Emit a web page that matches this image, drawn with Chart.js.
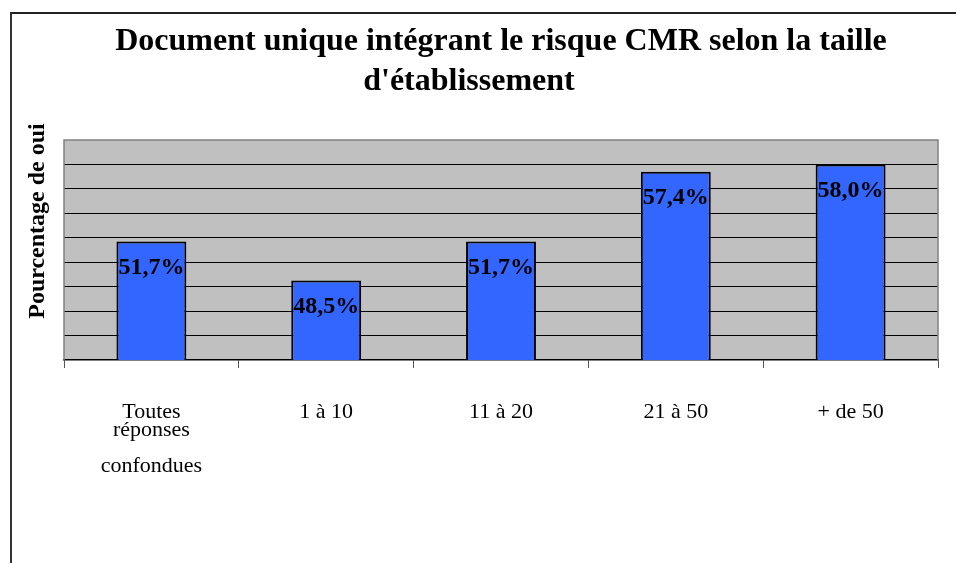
<!DOCTYPE html>
<html>
<head>
<meta charset="utf-8">
<script src="https://cdn.jsdelivr.net/npm/chart.js@4"></script>
<style>
  body { margin: 0; background: #fff; }
  #frame { position: absolute; left: 10px; top: 12px; width: 960px; height: 600px;
           border-left: 2px solid #333; border-top: 2px solid #222; }
  #wrap { position: absolute; left: 0; top: 0; width: 956px; height: 563px; }
</style>
</head>
<body>
<div id="frame"></div>
<div id="wrap"><canvas id="bar-chart"></canvas></div>
<script>
var serif = "'Liberation Serif', 'Times New Roman', serif";

var categories = [
  ["Toutes", "réponses", "", "confondues"],
  "1 à 10",
  "11 à 20",
  "21 à 50",
  "+ de 50"
];
var percentOui = [51.7, 48.5, 51.7, 57.4, 58.0];
var valueLabels = ["51,7%", "48,5%", "51,7%", "57,4%", "58,0%"];

// grey plot background + border, y title, labels inside bars
var plotArea = {
  id: "plotArea",
  beforeDraw: function(chart) {
    var a = chart.chartArea, ctx = chart.ctx;
    ctx.save();
    ctx.fillStyle = "#c0c0c0";
    ctx.fillRect(a.left, a.top, a.right - a.left, a.bottom - a.top);
    ctx.restore();
  },
  afterDraw: function(chart) {
    var a = chart.chartArea, ctx = chart.ctx;
    ctx.save();
    ctx.strokeStyle = "#808080";
    ctx.lineWidth = 1.5;
    ctx.beginPath();
    ctx.moveTo(a.left, a.bottom);
    ctx.lineTo(a.left, a.top);
    ctx.lineTo(a.right, a.top);
    ctx.lineTo(a.right, a.bottom);
    ctx.stroke();
    ctx.translate(38, 221);
    ctx.rotate(-Math.PI / 2);
    ctx.font = "bold 24px " + serif;
    ctx.fillStyle = "#000";
    ctx.textAlign = "center";
    ctx.textBaseline = "middle";
    ctx.fillText("Pourcentage de oui", 0, 0);
    ctx.restore();
  },
  afterDatasetsDraw: function(chart) {
    var ctx = chart.ctx;
    ctx.save();
    ctx.font = "bold 24px " + serif;
    ctx.fillStyle = "#000";
    ctx.textAlign = "center";
    ctx.textBaseline = "middle";
    chart.getDatasetMeta(0).data.forEach(function(bar, i) {
      ctx.fillText(valueLabels[i], bar.x, bar.y + 26);
    });
    ctx.restore();
  }
};

new Chart(document.getElementById("bar-chart"), {
  type: "bar",
  data: {
    labels: categories,
    datasets: [
      {
        data: percentOui,
        backgroundColor: "#3366ff",
        borderColor: "#000",
        borderWidth: 2,
        categoryPercentage: 1,
        barPercentage: 0.4
      }
    ]
  },
  options: {
    responsive: true,
    maintainAspectRatio: false,
    animation: false,
    layout: { padding: { left: 0, right: 18, top: 0, bottom: 0 } },
    plugins: {
      legend: { display: false },
      tooltip: { enabled: false },
      title: {
        display: true,
        text: "Document unique intégrant le risque CMR selon la taille",
        fullSize: false,
        color: "#000",
        font: { family: serif, size: 32, weight: "bold", lineHeight: 1.25 },
        padding: { top: 22, bottom: 0 }
      },
      subtitle: {
        display: true,
        text: "d'établissement",
        color: "#000",
        font: { family: serif, size: 32, weight: "bold", lineHeight: 1.25 },
        padding: { top: 0, bottom: 38 }
      }
    },
    scales: {
      x: {
        grid: {
          offset: true,
          drawOnChartArea: false,
          drawTicks: true,
          tickLength: 8,
          color: "#555"
        },
        border: { color: "#000", width: 1.5 },
        ticks: {
          color: "#000",
          padding: 35,
          font: { family: serif, size: 22, lineHeight: "18px" }
        },
        afterFit: function(scale) { scale.height = 203; }
      },
      y: {
        min: 42,
        max: 60,
        ticks: { display: false, stepSize: 2 },
        grid: {
          drawTicks: false,
          color: function(c) { return c.tick.value >= 60 || c.tick.value <= 42 ? "rgba(0,0,0,0)" : "#000"; }
        },
        border: { display: false },
        afterFit: function(scale) { scale.width = 64; }
      }
    }
  },
  plugins: [plotArea]
});
</script>
</body>
</html>
